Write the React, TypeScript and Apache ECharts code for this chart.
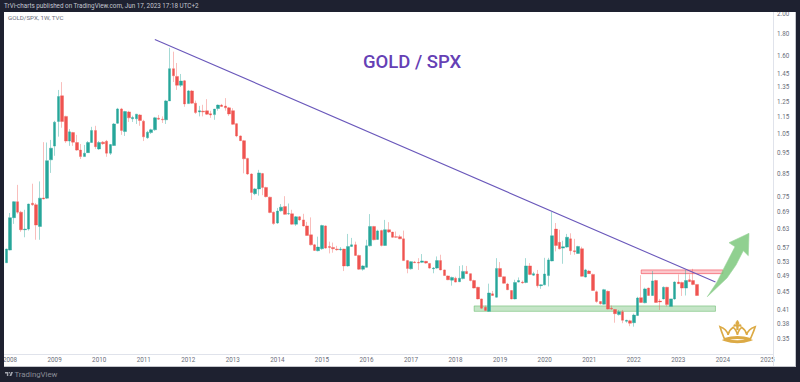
import React, { useEffect, useRef } from "react";
import * as echarts from "echarts";

const opens = [
  0.527,
  0.564,0.671,0.731,0.691,0.629,0.631,0.725,0.719,0.640,0.746,0.745,0.915,
  0.985,1.124,1.290,1.155,1.012,1.059,1.004,0.964,0.931,0.951,1.004,1.071,
  0.970,1.006,1.011,0.948,0.988,1.113,1.202,1.065,1.183,1.140,1.140,1.164,
  1.126,1.030,1.059,1.075,1.144,1.138,1.134,1.255,1.492,1.431,1.365,1.398,
  1.237,1.324,1.240,1.183,1.188,1.190,1.172,1.166,1.205,1.227,1.221,1.209,
  1.191,1.111,1.040,1.014,0.922,0.848,0.763,0.783,0.850,0.789,0.749,0.691,
  0.652,0.696,0.712,0.685,0.685,0.648,0.674,0.663,0.642,0.612,0.580,0.562,
  0.568,0.642,0.575,0.572,0.567,0.565,0.567,0.518,0.575,0.580,0.548,0.509,
  0.514,0.577,0.640,0.597,0.626,0.578,0.629,0.621,0.606,0.606,0.599,0.533,
  0.510,0.529,0.528,0.528,0.531,0.525,0.510,0.512,0.533,0.507,0.491,0.480,
  0.485,0.476,0.484,0.503,0.497,0.479,0.462,0.434,0.415,0.406,0.446,0.438,
  0.511,0.489,0.470,0.454,0.434,0.475,0.475,0.474,0.518,0.493,0.496,0.466,
  0.468,0.492,0.532,0.631,0.588,0.570,0.573,0.599,0.562,0.554,0.568,0.488,
  0.504,0.495,0.451,0.428,0.422,0.452,0.413,0.410,0.399,0.405,0.385,0.386,
  0.382,0.397,0.437,0.425,0.460,0.442,0.479,0.429,0.434,0.462,0.417,0.434,
  0.475,0.474,0.460,0.481,0.479,0.469,
];
const closes = [
  0.567,
  0.671,0.731,0.691,0.629,0.631,0.722,0.719,0.645,0.745,0.742,0.911,0.974,
  1.120,1.285,1.124,1.012,1.063,1.006,0.964,0.931,0.948,1.004,1.071,0.982,
  1.004,0.998,0.948,0.993,1.109,1.202,1.071,1.185,1.146,1.148,1.169,1.130,
  1.035,1.061,1.075,1.146,1.138,1.134,1.255,1.492,1.436,1.365,1.396,1.235,
  1.324,1.240,1.179,1.191,1.183,1.169,1.164,1.201,1.227,1.218,1.209,1.170,
  1.107,1.040,1.014,0.920,0.848,0.768,0.783,0.853,0.789,0.751,0.690,0.650,
  0.695,0.710,0.683,0.686,0.648,0.674,0.663,0.642,0.610,0.580,0.563,0.573,
  0.643,0.570,0.572,0.568,0.565,0.567,0.518,0.575,0.580,0.548,0.509,0.518,
  0.577,0.640,0.596,0.625,0.578,0.629,0.621,0.604,0.604,0.599,0.533,0.511,
  0.530,0.527,0.526,0.532,0.526,0.512,0.512,0.533,0.507,0.492,0.481,0.487,
  0.475,0.485,0.503,0.497,0.479,0.460,0.434,0.413,0.408,0.448,0.442,0.511,
  0.489,0.472,0.456,0.434,0.474,0.479,0.473,0.518,0.495,0.497,0.466,0.468,
  0.496,0.535,0.609,0.578,0.568,0.574,0.604,0.562,0.559,0.575,0.490,0.507,
  0.497,0.454,0.428,0.423,0.456,0.411,0.411,0.401,0.405,0.387,0.387,0.381,
  0.398,0.436,0.426,0.458,0.442,0.478,0.426,0.427,0.462,0.421,0.434,0.475,
  0.471,0.460,0.479,0.476,0.469,0.442,
];
const lows = [
  0.526,
  0.563,0.649,0.685,0.622,0.604,0.626,0.715,0.596,0.596,0.740,0.742,0.853,
  0.935,1.036,1.087,1.002,0.986,0.986,0.960,0.919,0.930,0.950,1.002,0.970,
  0.965,0.991,0.930,0.939,0.986,1.109,1.046,1.040,1.121,1.121,1.109,1.098,
  1.012,1.024,1.051,1.069,1.134,1.115,1.109,1.255,1.389,1.331,1.352,1.216,
  1.235,1.235,1.170,1.155,1.155,1.164,1.146,1.134,1.191,1.216,1.191,1.158,
  1.103,1.033,1.012,0.851,0.844,0.738,0.757,0.755,0.757,0.748,0.687,0.646,
  0.649,0.693,0.681,0.681,0.646,0.642,0.660,0.640,0.609,0.578,0.562,0.560,
  0.565,0.568,0.554,0.556,0.562,0.562,0.504,0.516,0.574,0.547,0.507,0.505,
  0.513,0.575,0.594,0.596,0.575,0.577,0.618,0.602,0.602,0.598,0.532,0.498,
  0.508,0.526,0.507,0.526,0.524,0.510,0.498,0.510,0.506,0.491,0.480,0.466,
  0.474,0.475,0.482,0.496,0.477,0.459,0.433,0.411,0.407,0.405,0.441,0.437,
  0.488,0.471,0.455,0.433,0.433,0.474,0.471,0.472,0.493,0.491,0.461,0.458,
  0.467,0.464,0.531,0.560,0.566,0.524,0.571,0.550,0.550,0.553,0.489,0.487,
  0.496,0.453,0.425,0.421,0.421,0.410,0.409,0.382,0.397,0.381,0.382,0.375,
  0.374,0.396,0.425,0.424,0.441,0.441,0.425,0.409,0.433,0.417,0.417,0.432,
  0.470,0.441,0.442,0.476,0.467,0.441,
];
const highs = [
  0.568,
  0.688,0.733,0.800,0.696,0.700,0.723,0.805,0.726,0.815,1.006,1.004,1.018,
  1.128,1.331,1.388,1.159,1.079,1.063,1.046,0.996,0.991,1.012,1.092,1.098,
  1.012,1.012,1.018,0.996,1.115,1.209,1.209,1.190,1.190,1.159,1.170,1.170,
  1.134,1.069,1.081,1.152,1.164,1.155,1.262,1.668,1.634,1.538,1.450,1.404,
  1.331,1.331,1.257,1.222,1.229,1.267,1.190,1.202,1.231,1.235,1.274,1.215,
  1.207,1.115,1.043,1.018,0.925,0.851,0.787,0.867,0.853,0.792,0.751,0.693,
  0.707,0.722,0.753,0.724,0.700,0.677,0.677,0.685,0.656,0.672,0.583,0.606,
  0.646,0.644,0.590,0.587,0.577,0.573,0.568,0.615,0.602,0.590,0.550,0.520,
  0.596,0.684,0.642,0.629,0.629,0.663,0.655,0.622,0.623,0.612,0.626,0.535,
  0.532,0.532,0.540,0.552,0.532,0.526,0.515,0.545,0.550,0.508,0.492,0.489,
  0.489,0.518,0.520,0.518,0.498,0.481,0.463,0.435,0.419,0.471,0.453,0.540,
  0.529,0.490,0.473,0.455,0.481,0.487,0.479,0.540,0.526,0.502,0.507,0.469,
  0.541,0.541,0.692,0.652,0.629,0.593,0.615,0.617,0.599,0.577,0.574,0.510,
  0.507,0.497,0.454,0.429,0.458,0.454,0.419,0.411,0.409,0.409,0.388,0.388,
  0.401,0.439,0.493,0.461,0.461,0.504,0.481,0.434,0.464,0.463,0.434,0.477,
  0.495,0.476,0.507,0.495,0.510,0.469,
];

const priceTicks = [2, 1.8, 1.6, 1.45, 1.35, 1.25, 1.15, 1.05, 0.95, 0.85, 0.75, 0.69, 0.63, 0.57, 0.53, 0.49, 0.45, 0.41, 0.38, 0.35];

const trendStart = { month: "2011-04", value: 1.745 };
const trendEnd = { month: "2023-11", value: 0.475 };
const resistance = { from: "2022-03", to: "2024-01", top: 0.507, bottom: 0.497 };
const support = { from: "2018-06", to: "2023-11", top: 0.418, bottom: 0.406 };

const months: string[] = ["2007-12"];
for (let y = 2008; y <= 2024; y++) for (let m = 1; m <= 12; m++) months.push(`${y}-${String(m).padStart(2, "0")}`);
months.push("2025-01", "2025-02");

const FRAME = "#1e2130";
const FONT = "Roboto, 'Liberation Sans', sans-serif";

export default function App() {
  const ref = useRef<HTMLDivElement>(null);
  useEffect(() => {
    document.body.style.margin = "0";
    echarts.graphic.registerShape(
      "crownBody",
      echarts.graphic.extendPath(
        "M3 20 C14 24 24 30 27 44 C30 32 36 26 42 22 C48 26 52 32 55 44 C58 32 62 26 68 22 C74 26 80 32 83 44 C86 30 96 24 108 20 C104 34 98 46 94 56 Q55 44 16 56 C12 46 7 34 3 20 Z M16 60 Q55 48 94 60 Q55 74 16 60 Z M24 60 Q55 66 86 60",
        {}
      )
    );
    echarts.graphic.registerShape(
      "crownLily",
      echarts.graphic.extendPath(
        "M55 0 C60 6 62 10 58 14 C64 10 68 14 66 20 C62 18 60 18 58 20 L58 30 L52 30 L52 20 C50 18 48 18 44 20 C42 14 46 10 52 14 C48 10 50 6 55 0 Z",
        {}
      )
    );
    echarts.graphic.registerShape(
      "tvLogo",
      echarts.graphic.extendPath("M0 0H7V8H4V3H0Z M8 1.5a1.5 1.5 0 1 0 3 0a1.5 1.5 0 1 0 -3 0Z M13 0H17L13.5 8H9.5Z", {})
    );
    const chart = echarts.init(ref.current!, null, { renderer: "svg" });
    chart.setOption({
      animation: false,
      backgroundColor: "#ffffff",
      grid: { left: 3, right: 27, top: 12, height: 342 },
      xAxis: {
        type: "category",
        data: months,
        boundaryGap: true,
        axisLine: { lineStyle: { color: "#e0e3eb", width: 1 } },
        axisTick: { show: false },
        splitLine: { show: false },
        axisLabel: {
          interval: (_: number, v: string) => v.endsWith("-01"),
          formatter: (v: string) => v.slice(0, 4),
          color: "#6a6e7a",
          fontSize: 6.3,
          fontFamily: FONT,
          margin: 3,
        },
      },
      yAxis: {
        type: "log",
        position: "right",
        logBase: 10,
        min: 0.323,
        max: 2.0216,
        axisLine: { show: true, lineStyle: { color: "#e0e3eb", width: 1 } },
        axisTick: { show: false },
        splitLine: { show: false },
        axisLabel: {
          customValues: priceTicks,
          formatter: (v: number) => Number(v).toFixed(2),
          color: "#6a6e7a",
          fontSize: 6.3,
          fontFamily: FONT,
          margin: 4,
        },
      },
      series: [
        {
          type: "candlestick",
          barWidth: 3,
          data: opens.map((o, i) => [o, closes[i], lows[i], highs[i]]),
          itemStyle: {
            color: "#26a69a",
            color0: "#ef5350",
            borderColor: "rgba(38,166,154,0.6)",
            borderColor0: "rgba(239,83,80,0.55)",
            borderWidth: 0.7,
          },
          markLine: {
            silent: true,
            symbol: "none",
            label: { show: false },
            lineStyle: { color: "#6a58bb", width: 1.1, type: "solid" },
            data: [
              [
                { coord: [trendStart.month, trendStart.value] },
                { coord: [trendEnd.month, trendEnd.value] },
              ],
            ],
          },
          markArea: {
            silent: true,
            label: { show: false },
            data: [
              [
                { coord: [resistance.from, resistance.top], itemStyle: { color: "rgba(242,54,69,0.28)", borderColor: "rgba(242,54,69,0.55)", borderWidth: 1 } },
                { coord: [resistance.to, resistance.bottom] },
              ],
              [
                { coord: [support.from, support.top], itemStyle: { color: "rgba(76,175,80,0.32)", borderColor: "rgba(76,175,80,0.45)", borderWidth: 1 } },
                { coord: [support.to, support.bottom] },
              ],
            ],
          },
        },
      ],
      graphic: [
        { type: "rect", z: 50, shape: { x: 0, y: 0, width: 800, height: 12 }, style: { fill: FRAME } },
        { type: "rect", z: 50, shape: { x: 0, y: 0, width: 4, height: 382 }, style: { fill: FRAME } },
        { type: "rect", z: 50, shape: { x: 796, y: 0, width: 4, height: 382 }, style: { fill: FRAME } },
        { type: "rect", z: 50, shape: { x: 795, y: 12, width: 1, height: 355 }, style: { fill: "#c4c6cc" } },
        { type: "rect", z: 50, shape: { x: 0, y: 367, width: 800, height: 15 }, style: { fill: FRAME } },
        { type: "rect", z: 50, shape: { x: 4, y: 366, width: 792, height: 1 }, style: { fill: "#c4c6cc" } },
        { type: "line", z: 20, shape: { x1: 773.5, y1: 354, x2: 773.5, y2: 366 }, style: { stroke: "#e0e3eb", lineWidth: 1 } },
        {
          type: "text", z: 60, x: 4, y: 6,
          style: { text: "TrVi-charts published on TradingView.com, Jun 17, 2023 17:18 UTC+2", fill: "#c4c7d0", fontSize: 6.3, fontFamily: FONT, verticalAlign: "middle" },
        },
        {
          type: "text", z: 60, x: 8, y: 18,
          style: { text: "GOLD/SPX, 1W, TVC", fill: "#6a6e7a", fontSize: 6.2, fontFamily: FONT, verticalAlign: "middle" },
        },
        {
          type: "text", z: 60, x: 363, y: 62,
          style: { text: "GOLD / SPX", fill: "#6540b5", fontSize: 18.5, fontWeight: 500, fontFamily: "Roboto, sans-serif", verticalAlign: "middle" },
        },
        {
          type: "polygon", z: 30,
          shape: {
            points: [
              [707.3, 296.7], [717, 282], [724, 268], [735, 246.7], [729, 242.7], [749, 233.3],
              [748.3, 255.7], [743.3, 250.7], [736, 265], [727, 278],
            ],
          },
          style: { fill: "rgba(125,200,125,0.85)", stroke: "#9ad49a", lineWidth: 0.6 },
        },
        {
          type: "crownBody", z: 30, x: 719, y: 320, scaleX: 0.335, scaleY: 0.335,
          style: { fill: "#ffffff", stroke: "#dcaa45", lineWidth: 5 },
        },
        {
          type: "crownLily", z: 31, x: 719, y: 320, scaleX: 0.335, scaleY: 0.335,
          style: { fill: "#dcaa45", stroke: "#dcaa45", lineWidth: 1 },
        },
        { type: "tvLogo", z: 60, x: 5, y: 372, scaleX: 0.47, scaleY: 0.5, style: { fill: "#a3a6af" } },
        {
          type: "text", z: 60, x: 14.5, y: 374.5,
          style: { text: "TradingView", fill: "#8a8d97", fontSize: 7.8, fontFamily: FONT, verticalAlign: "middle" },
        },
      ],
    });
    return () => chart.dispose();
  }, []);
  return <div ref={ref} style={{ width: 800, height: 382 }} />;
}
